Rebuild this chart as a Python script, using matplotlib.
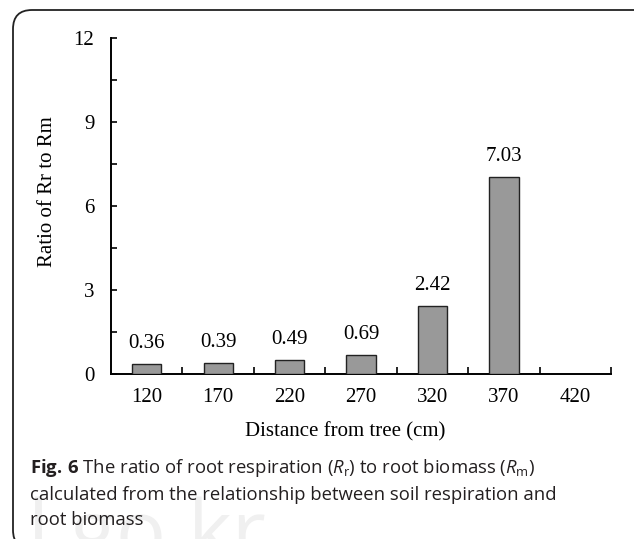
import numpy as np
import matplotlib
matplotlib.use('Agg')
import matplotlib.pyplot as plt
from matplotlib.patches import FancyBboxPatch

# data
distance = ['120', '170', '220', '270', '320', '370', '420']
ratio = [0.36, 0.39, 0.49, 0.69, 2.42, 7.03, np.nan]
value_lbl = ['0.36', '0.39', '0.49', '0.69', '2.42', '7.03', '']
yticks = [0, 3, 6, 9, 12]

plt.rcParams['mathtext.fontset'] = 'custom'
plt.rcParams['mathtext.rm'] = 'Open Sans'
plt.rcParams['mathtext.it'] = 'Open Sans:italic'
plt.rcParams['mathtext.bf'] = 'Open Sans:bold'

W, H = 634, 539
fig = plt.figure(figsize=(W / 100, H / 100), dpi=100)

# rounded frame around the figure (right/bottom run off the page)
frame = FancyBboxPatch((13 / W, -10 / H), 640 / W, 539 / H,
                       boxstyle='round,pad=0,rounding_size=0.03',
                       transform=fig.transFigure, fill=False,
                       ec='#222222', lw=1.3, mutation_aspect=W / H)
fig.add_artist(frame)

# faint watermark at the bottom, partly cut off
fig.text(28 / W, -40 / H, 'l go.kr', fontsize=60, color='#f0f0f0',
         family='Open Sans', ha='left', va='bottom', zorder=0)

ax = fig.add_axes([111 / W, 1 - 374 / H, 500 / W, 336 / H])
x = np.arange(len(distance))
bars = ax.bar(x, ratio, width=0.41, color='#999999', edgecolor='#222222',
              linewidth=1.0, zorder=3)

serif = 'Liberation Serif'
for xi, v, s in zip(x, ratio, value_lbl):
    if s:
        ax.annotate(s, (xi, v), xytext=(0, 8), textcoords='offset points',
                    ha='center', va='bottom', fontsize=15, family=serif)

ax.set_xlim(-0.5, 6.5)
ax.set_ylim(0, 12)
ax.set_yticks(yticks)
ax.set_yticks(np.arange(1.5, 12, 3), minor=True)
ax.set_xticks(x)
ax.set_xticklabels(distance)
ax.set_xticks(np.arange(0.5, 7, 1), minor=True)

ax.tick_params(axis='x', which='major', length=0, pad=10,
               labelsize=15, labelfontfamily=serif)
ax.tick_params(axis='x', which='minor', direction='in', length=5, width=1.2)
ax.tick_params(axis='y', which='both', direction='in', length=4, width=1.2,
               labelsize=15, labelfontfamily=serif, pad=12)

for side in ['top', 'right']:
    ax.spines[side].set_visible(False)
for side in ['left', 'bottom']:
    ax.spines[side].set_linewidth(1.4)

fig.text(345 / W, 1 - 432 / H, 'Distance from tree (cm)', ha='center',
         va='center', fontsize=15, family=serif)
fig.text(48 / W, 1 - 192 / H, 'Ratio of Rr to Rm', ha='center',
         va='center', rotation=90, fontsize=15, family=serif)

cap = dict(fontsize=13.3, family='Open Sans', color='#231f20',
           ha='left', va='center')
fig.text(30 / W, 1 - 468 / H,
         r'$\mathbf{Fig.}\,\mathbf{6}$ The ratio of root respiration '
         r'($\mathit{R}_\mathrm{r}$) to root biomass ($\mathit{R}_\mathrm{m}$)',
         **cap)
fig.text(30 / W, 1 - 495 / H,
         'calculated from the relationship between soil respiration and',
         **cap)
fig.text(30 / W, 1 - 520 / H, 'root biomass', **cap)

fig.savefig('out.png', dpi=100)
